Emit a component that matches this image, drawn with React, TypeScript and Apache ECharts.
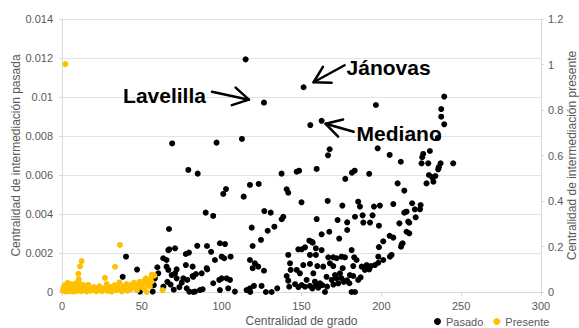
import React, { useEffect, useRef } from "react";
import * as echarts from "echarts";

// Centralidad de grado (x) vs. centralidad de intermediación pasada (eje izq.)
const pasado: [number, number][] = [
  [115, 0.01193], [126.5, 0.00971], [151.3, 0.0105], [155.5, 0.00856], [162.6, 0.00878],
  [196.6, 0.00959], [69, 0.00762], [96.8, 0.00766], [112.7, 0.00785], [167.6, 0.00732],
  [166.6, 0.00701], [197.7, 0.00737], [205.2, 0.00703], [79.1, 0.00626], [85, 0.00607],
  [137.5, 0.00607], [147, 0.00617], [148.5, 0.00622], [159.5, 0.00631], [177.4, 0.0058],
  [181.6, 0.00612], [183.3, 0.00622], [192.4, 0.00606], [212.2, 0.00668], [210.2, 0.00557],
  [214.4, 0.0052],
  [239.4, 0.01002], [237.5, 0.00938], [237.5, 0.00899], [239.4, 0.0086], [235.4, 0.0079],
  [230.4, 0.00723], [226.2, 0.00708], [225.6, 0.00691], [225.2, 0.0066], [229.4, 0.0066],
  [237.1, 0.0066], [245, 0.0066], [236, 0.0064], [235.6, 0.00629], [229.8, 0.006],
  [231.9, 0.00588], [233.9, 0.00595], [228.3, 0.00557], [232.6, 0.00566],
  [101, 0.00503], [102.7, 0.00528], [117.7, 0.00549], [123.2, 0.00554], [113.8, 0.00489],
  [140.7, 0.00527], [141.7, 0.00509], [150, 0.0046], [90, 0.00407], [94.7, 0.0039],
  [126.7, 0.00415], [130.7, 0.00407], [138.6, 0.00386], [137.6, 0.00373], [118.8, 0.0033],
  [133, 0.00335], [128.8, 0.00314], [124.6, 0.00267], [119.4, 0.00236], [67, 0.00323],
  [166.4, 0.00467], [175.6, 0.00443], [185.5, 0.00463], [186.6, 0.00438], [195.4, 0.00438],
  [199.1, 0.00443], [207.5, 0.00451], [219.3, 0.00455], [224.6, 0.00446], [221, 0.00424],
  [224.2, 0.00424], [215.8, 0.00412], [214.4, 0.00407], [221.5, 0.00383], [217.5, 0.00355],
  [211.3, 0.00352], [216.8, 0.00361], [215.8, 0.00309], [217.5, 0.00301], [213.3, 0.0025],
  [212.3, 0.00232], [159.5, 0.00374], [172.6, 0.00369], [178.6, 0.00357], [183.5, 0.00386],
  [188.3, 0.00393], [188.7, 0.00356], [192.9, 0.00356], [194.5, 0.00393], [198.5, 0.0034],
  [162.6, 0.00296], [167.4, 0.00309], [173.6, 0.00274], [178.6, 0.00318], [205.2, 0.00288],
  [207.5, 0.00279], [201.2, 0.0026], [198.5, 0.0023], [212.7, 0.00243], [206.4, 0.0019],
  [205.4, 0.00181], [198.1, 0.00181], [201.2, 0.00164], [156.4, 0.00258], [157, 0.00253],
  [154.9, 0.00263], [152.2, 0.00229], [150.1, 0.00219], [148, 0.00219], [159, 0.00224],
  [162.6, 0.00215], [181.4, 0.00215],
  [40.1, 0.00181], [38, 0.00078], [47, 0.00115], [59.7, 0.00127], [63.4, 0.00173],
  [65.5, 0.00164], [66.6, 0.00215], [67.2, 0.00219], [70.8, 0.00224], [77.5, 0.00195],
  [79.5, 0.00202], [84.7, 0.00237], [90.8, 0.00236], [93.4, 0.00206], [98.9, 0.0025],
  [102.1, 0.00246], [95.8, 0.00164], [100, 0.00181], [101.6, 0.00173], [105.6, 0.00181],
  [81.8, 0.0013], [77.6, 0.00138], [87.5, 0.00096], [91, 0.00116], [90.6, 0.00122],
  [65.5, 0.0013], [66.6, 0.00113], [68.7, 0.00087], [70.8, 0.00096], [71.8, 0.00116],
  [71.8, 0.0007], [58.2, 0.0007], [60.3, 0.00096], [53, 0.00053], [55.1, 0.00045],
  [48.8, 0.00002], [56.8, 0.00002], [76, 0.0007], [78.5, 0.00062], [82.2, 0.00078],
  [81.8, 0.00082], [83.9, 0.00092], [78.1, 0.00019], [79.7, 0.00002], [82.2, 0],
  [83.3, 0.00002], [86.4, 0.0001], [88.1, 0.00014], [94.7, 0.00045], [98.5, 0.00062],
  [100, 0.0007], [103.1, 0.0007], [105.2, 0.00062], [98.9, 0.0001], [104.1, 0.00019],
  [108.3, 0.00002], [57.5, 0.00035], [63.5, 0.00028], [66, 0.00052], [68, 0.00038],
  [70, 0.00012], [73.5, 0.00025], [75, 0.00048],
  [117.7, 0.00164], [120.8, 0.00147], [119.4, 0.00122], [122.9, 0.0013], [126.5, 0.00109],
  [117.7, 0.00019], [120.2, 0.00031], [125, 0.00031], [127.7, 0], [131.3, 0],
  [134.8, 0.00019], [115.6, 0.0001], [117.9, 0], [141.7, 0.0019], [142.8, 0.00147],
  [143.2, 0.00113], [140.7, 0.00082], [141.7, 0.00058], [142.3, 0.00027], [147, 0.00113],
  [151.1, 0.00138], [155.3, 0.00144],
  [159.9, 0.00133], [163.6, 0.0013], [167.8, 0.00147], [169.9, 0.00133], [175.8, 0.00122],
  [182.4, 0.00133], [187.7, 0.0013], [190.8, 0.00138], [193.5, 0.00133], [196, 0.00138],
  [198.1, 0.0015], [189.7, 0.00113], [192.4, 0.00116], [149, 0.00096], [157.4, 0.00096],
  [165.7, 0.00078], [171, 0.00087], [174.1, 0.00096], [180.3, 0.00087], [182.4, 0.00082],
  [153.2, 0.00062], [158.4, 0.00053], [161.6, 0.00045], [168.9, 0.00062], [172, 0.0007],
  [175.1, 0.0007], [150.1, 0.00036], [155.3, 0.00031], [159, 0.00031], [152.2, 0.00027],
  [164.7, 0], [181.4, 0], [183.5, 0], [155.3, 0.0019], [159, 0.0019], [166.8, 0.00178],
  [169.9, 0.00178], [172, 0.00173], [175.1, 0.00181], [177.2, 0.00178], [183, 0.00178],
  [184.5, 0.00164], [146, 0.0004], [148, 0.00025], [156.8, 0.00018], [160.5, 0.00022],
  [163, 0.00035], [166, 0.00028], [170, 0.00038], [173, 0.00044], [176.5, 0.00052],
  [178.5, 0.0006], [180, 0.00045], [185.5, 0.00062], [187, 0.00075]
];

// Centralidad de intermediación presente (eje dcho.)
const presente: [number, number][] = [
  [2.1, 1.002], [36.3, 0.207], [12.3, 0.136], [11.3, 0.113], [10.2, 0.08], [10.5, 0.056],
  [33.2, 0.111], [26.9, 0.062], [56.2, 0.077], [57.8, 0.072], [63, 0.008], [53, 0],
  [50.9, 0.045], [52, 0.053], [43.6, 0.031], [54.5, 0.04], [55.5, 0.058],
  [0.5, 0.005], [1, 0.02], [1.5, 0.012], [2, 0.03], [2.5, 0.002], [3, 0.018], [3.5, 0.04],
  [4, 0.01], [4.5, 0.025], [5, 0.003], [5.5, 0.035], [6, 0.015], [6.5, 0.008], [7, 0.028],
  [7.5, 0.002], [8, 0.02], [8.5, 0.038], [9, 0.01], [9.5, 0.005], [10, 0.025], [11, 0.015],
  [11.5, 0.035], [12, 0.004], [13, 0.02], [13.5, 0.03], [14, 0.008], [15, 0.012],
  [15.5, 0.002], [16.5, 0.031], [17, 0.018], [18, 0.006], [19, 0.01], [20, 0.022],
  [20.7, 0.015], [21.5, 0.003], [22.5, 0.008], [23.5, 0.025], [24, 0.014], [25, 0.004],
  [26, 0.01], [27, 0.018], [28, 0.035], [28.5, 0.005], [29.5, 0.012], [30.5, 0.022],
  [31, 0.002], [32, 0.015], [33, 0.03], [34, 0.008], [35, 0.02], [36, 0.042], [36.5, 0.012],
  [37.5, 0.003], [38.5, 0.025], [39.5, 0.015], [40.5, 0.035], [41, 0.006], [42, 0.02],
  [43, 0.012], [44.5, 0.028], [45, 0.04], [46, 0.018], [47, 0.008], [48, 0.03],
  [48.5, 0.045], [49.5, 0.022], [50.5, 0.03], [51.5, 0.015], [52.5, 0.06], [53.5, 0.05],
  [54, 0.035], [55, 0.025], [56, 0.045]
];

const xAxisTicks = { min: 0, max: 300, interval: 50 };
const leftAxisTicks = { min: 0, max: 0.014, interval: 0.002 };
const rightAxisTicks = { min: 0, max: 1.2, interval: 0.2 };

// Callouts: labelled point plus pixel offsets for the arrow and the caption
const callouts = [
  { text: "Lavelilla", at: [126.5, 0.00971], tail: [-52, -11], tip: [-15, -3], label: [-58, -7], align: "right" },
  { text: "Jánovas", at: [151.3, 0.0105], tail: [41, -22], tip: [10, -5], label: [43, -20], align: "left" },
  { text: "Mediano", at: [162.6, 0.00878], tail: [32, 11], tip: [4, 3], label: [35, 13], align: "left" }
];

const FONT = "'Liberation Sans', Arial, sans-serif";
const GRAY = "#595959";

export default function App() {
  const ref = useRef<HTMLDivElement>(null);

  useEffect(() => {
    document.body.style.margin = "0";
    if (!ref.current) return;
    const chart = echarts.init(ref.current, undefined, { renderer: "svg" });

    chart.setOption({
      animation: false,
      backgroundColor: "#ffffff",
      textStyle: { fontFamily: FONT },
      grid: { left: 62, right: 38, top: 19, bottom: 36, containLabel: false, outerBoundsMode: "none" },
      legend: {
        data: ["Pasado", "Presente"],
        left: 434,
        top: 316,
        padding: 0,
        icon: "circle",
        itemWidth: 7,
        itemHeight: 7,
        itemGap: 10,
        textStyle: { fontSize: 11, color: GRAY, fontFamily: FONT }
      },
      xAxis: {
        type: "value",
        ...xAxisTicks,
        name: "Centralidad de grado",
        nameLocation: "middle",
        nameGap: 23,
        nameMoveOverlap: false,
        nameTextStyle: { fontSize: 12, color: GRAY, fontFamily: FONT },
        axisLine: { show: true, lineStyle: { color: "#d9d9d9" } },
        axisTick: { show: true, length: 4, lineStyle: { color: "#d9d9d9" } },
        axisLabel: { fontSize: 11, color: GRAY, margin: 8, fontFamily: FONT },
        splitLine: { show: false }
      },
      yAxis: [
        {
          type: "value",
          position: "left",
          ...leftAxisTicks,
          name: "Centralidad de intermediación pasada",
          nameLocation: "middle",
          nameGap: 40,
          nameMoveOverlap: false,
          nameTextStyle: { fontSize: 12, color: GRAY, fontFamily: FONT },
          axisLine: { show: true, lineStyle: { color: "#d9d9d9" } },
          axisTick: { show: true, length: 3, lineStyle: { color: "#d9d9d9" } },
          axisLabel: {
            fontSize: 11,
            color: GRAY,
            margin: 9,
            fontFamily: FONT,
            formatter: (v: number) => String(+v.toFixed(3))
          },
          splitLine: { show: true, lineStyle: { color: "#e3e3e3", width: 1 } }
        },
        {
          type: "value",
          position: "right",
          ...rightAxisTicks,
          name: "Centralidad de intermediación presente",
          nameLocation: "middle",
          nameGap: 25,
          nameMoveOverlap: false,
          nameTextStyle: { fontSize: 12, color: GRAY, fontFamily: FONT },
          axisLine: { show: true, lineStyle: { color: "#d9d9d9" } },
          axisTick: { show: true, length: 3, lineStyle: { color: "#d9d9d9" } },
          axisLabel: {
            fontSize: 11,
            color: GRAY,
            margin: 7,
            fontFamily: FONT,
            formatter: (v: number) => String(+v.toFixed(1))
          },
          splitLine: { show: false }
        }
      ],
      series: [
        {
          name: "Pasado",
          type: "scatter",
          yAxisIndex: 0,
          symbolSize: 6,
          itemStyle: { color: "#000000", opacity: 1 },
          data: pasado
        },
        {
          name: "Presente",
          type: "scatter",
          yAxisIndex: 1,
          symbolSize: 6,
          itemStyle: { color: "#FFC000", opacity: 1 },
          data: presente
        }
      ]
    });

    // Arrows and captions anchored to the highlighted points
    const graphics: any[] = [];
    callouts.forEach((c) => {
      const p = chart.convertToPixel({ xAxisIndex: 0, yAxisIndex: 0 }, c.at) as number[];
      const tail = [p[0] + c.tail[0], p[1] + c.tail[1]];
      const tip = [p[0] + c.tip[0], p[1] + c.tip[1]];
      const dx = tail[0] - tip[0];
      const dy = tail[1] - tip[1];
      const len = Math.hypot(dx, dy);
      const ux = dx / len;
      const uy = dy / len;
      const head = 18;
      const ang = Math.PI / 6;
      const rot = (a: number) => [
        tip[0] + head * (ux * Math.cos(a) - uy * Math.sin(a)),
        tip[1] + head * (ux * Math.sin(a) + uy * Math.cos(a))
      ];
      const lineStyle = { stroke: "#000", lineWidth: 2.5, fill: null, lineCap: "round", lineJoin: "round" };
      graphics.push({ type: "polyline", shape: { points: [tail, tip] }, style: lineStyle, z: 100 });
      graphics.push({ type: "polyline", shape: { points: [rot(ang), tip, rot(-ang)] }, style: lineStyle, z: 100 });
      graphics.push({
        type: "text",
        z: 101,
        style: {
          text: c.text,
          x: p[0] + c.label[0],
          y: p[1] + c.label[1],
          font: `bold 21px ${FONT}`,
          fill: "#000",
          textAlign: c.align,
          align: c.align,
          textVerticalAlign: "middle",
          verticalAlign: "middle"
        }
      });
    });
    chart.setOption({ graphic: graphics });

    return () => chart.dispose();
  }, []);

  return (
    <div
      ref={ref}
      style={{ position: "absolute", left: 0, top: 0, width: 579, height: 328 }}
    />
  );
}
